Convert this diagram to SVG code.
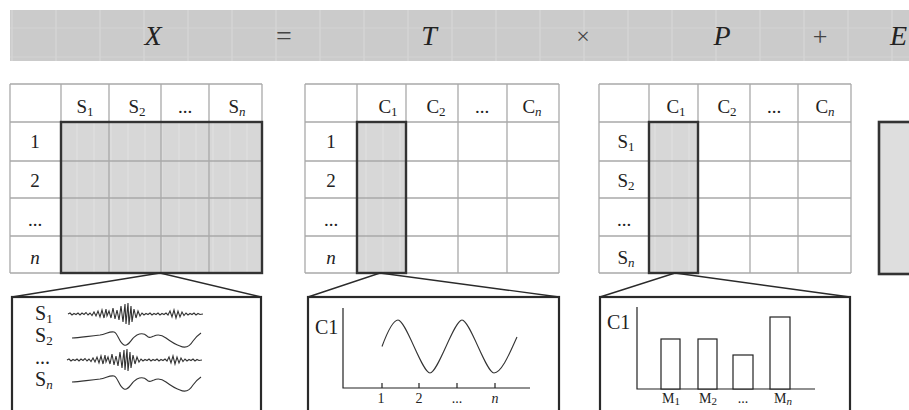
<svg xmlns="http://www.w3.org/2000/svg" width="909" height="410" viewBox="0 0 909 410">
<defs>
<pattern id="tex" x="0" y="0" width="44" height="29" patternUnits="userSpaceOnUse">
<rect width="44" height="29" fill="#cbcbcb"/>
<line x1="12" y1="0" x2="12" y2="29" stroke="#dadada" stroke-width="1"/>
<line x1="0" y1="28" x2="44" y2="28" stroke="#d4d4d4" stroke-width="1"/>
</pattern>
<pattern id="cell" x="0" y="0" width="17" height="13" patternUnits="userSpaceOnUse">
<rect width="17" height="13" fill="#d7d7d7"/>
<line x1="9" y1="0" x2="9" y2="13" stroke="#e3e3e3" stroke-width="0.8"/>
</pattern>
<path id="noisy" d="M68,314 L70,313 72,315 74,313.5 76,314.5 78,313 80,315 82,313 84,314.5 86,312.5 88,315 90,313 92,315.5 94,312 96,316 98,311 100,317 102,310 104,318 106,309 107,316 109,311 111,318 113,308 115,319 117,310 119,320 121,306 123,322 125,304 126,324 128,303 129,325 131,306 132,322 134,309 136,318 138,311 140,316 142,313 144,315 146,313.5 148,314.5 150,313 152,315 154,313.5 156,314.5 158,313 160,315 162,313.5 164,314.5 166,313 168,315 170,311 172,317 174,310 176,318 178,311 180,317 182,312 184,315.5 186,313 188,315 190,313.5 192,314.5 194,313 196,315 198,313.5 200,314.5 203,314"/>
<path id="smooth" d="M72,338 C80,338 88,336 100,335 C106,334 110,331 114,332 C118,333 119,343 124,345 C129,347 131,338 137,335 C141,333 144,333 147,336 C149,339 151,337 154,336 C158,334 162,335 166,338 C170,341 174,344 180,346 C186,349 190,346 193,341 C196,337 198,335 201,333"/>
</defs>
<style>
text{font-family:"Liberation Serif","Times New Roman",serif;fill:#222}
.big{font-size:28px;font-style:italic}
.op{fill:#444}
.hd{font-size:19px;text-anchor:middle}
.sb{font-size:13px}
.it{font-style:italic}
.lb{font-size:20px}
.sm{font-size:14px;text-anchor:middle}
.grid{stroke:#a9a9a9;stroke-width:1.3;fill:none}
.thick{stroke:#333;stroke-width:2.4;fill:none}
.box{stroke:#2a2a2a;stroke-width:2.2;fill:#fff}
.conn{stroke:#2a2a2a;stroke-width:1.4;fill:none}
.wave{stroke:#333;stroke-width:1.1;fill:none}
.ax{stroke:#222;stroke-width:1.2;fill:none}
</style>

<g id="banner">
<rect x="10" y="10" width="910" height="51" fill="url(#tex)"/>
<text class="big" x="153" y="45" text-anchor="middle">X</text>
<text class="op" x="284" y="45" text-anchor="middle" style="font-size:28px">=</text>
<text class="big" x="429" y="45" text-anchor="middle">T</text>
<text class="op" x="583" y="44" text-anchor="middle" style="font-size:24px">×</text>
<text class="big" x="722" y="45" text-anchor="middle">P</text>
<text class="op" x="820" y="45" text-anchor="middle" style="font-size:26px">+</text>
<text class="big" x="890" y="45">E</text>
</g>

<g id="matrix-X">
<rect x="61" y="122" width="201" height="151" fill="url(#cell)"/>
<path class="grid" d="M10,84H262M10,122H262M10,161H262M10,198H262M10,236H262M10,273H262M10,84V273M61,84V273M109,84V273M161,84V273M209,84V273M262,84V273"/>
<rect class="thick" x="61" y="122" width="201" height="151"/>
<text class="hd" x="85" y="113">S<tspan class="sb" dy="3">1</tspan></text>
<text class="hd" x="137" y="113">S<tspan class="sb" dy="3">2</tspan></text>
<text class="hd" x="185" y="113">...</text>
<text class="hd" x="237" y="113">S<tspan class="sb it" dy="3">n</tspan></text>
<text class="hd" x="35" y="148">1</text>
<text class="hd" x="35" y="187">2</text>
<text class="hd" x="35" y="226">...</text>
<text class="hd it" x="35" y="264">n</text>
</g>

<g id="matrix-T">
<rect x="357" y="122" width="49" height="151" fill="url(#cell)"/>
<path class="grid" d="M305,84H559M305,122H559M305,161H559M305,198H559M305,236H559M305,273H559M305,84V273M357,84V273M406,84V273M458,84V273M507,84V273M559,84V273"/>
<rect class="thick" x="357" y="122" width="49" height="151"/>
<text class="hd" x="388" y="113">C<tspan class="sb" dy="3">1</tspan></text>
<text class="hd" x="436" y="113">C<tspan class="sb" dy="3">2</tspan></text>
<text class="hd" x="482" y="113">...</text>
<text class="hd" x="532" y="113">C<tspan class="sb it" dy="3">n</tspan></text>
<text class="hd" x="331" y="148">1</text>
<text class="hd" x="331" y="187">2</text>
<text class="hd" x="331" y="226">...</text>
<text class="hd it" x="331" y="264">n</text>
</g>

<g id="matrix-P">
<rect x="649" y="122" width="49" height="151" fill="url(#cell)"/>
<path class="grid" d="M599,84H851M599,122H851M599,161H851M599,198H851M599,236H851M599,273H851M599,84V273M649,84V273M698,84V273M750,84V273M798,84V273M851,84V273"/>
<rect class="thick" x="649" y="122" width="49" height="151"/>
<text class="hd" x="676" y="113">C<tspan class="sb" dy="3">1</tspan></text>
<text class="hd" x="727" y="113">C<tspan class="sb" dy="3">2</tspan></text>
<text class="hd" x="774" y="113">...</text>
<text class="hd" x="825" y="113">C<tspan class="sb it" dy="3">n</tspan></text>
<text class="hd" x="626" y="148">S<tspan class="sb" dy="3">1</tspan></text>
<text class="hd" x="626" y="187">S<tspan class="sb" dy="3">2</tspan></text>
<text class="hd" x="624" y="226">...</text>
<text class="hd" x="626" y="264">S<tspan class="sb it" dy="3">n</tspan></text>
</g>

<g id="matrix-E">
<rect x="879" y="122" width="40" height="152" fill="#dedede" stroke="#333" stroke-width="2.6"/>
</g>

<g id="connectors">
<path class="conn" d="M12,297L160,273L261,297"/>
<path class="conn" d="M308,297L380,273L559,297"/>
<path class="conn" d="M600,297L675,273L850,297"/>
</g>

<g id="panel-signals">
<rect class="box" x="12" y="297" width="249" height="130"/>
<text class="lb" x="35" y="320">S<tspan class="sb" dy="3">1</tspan></text>
<text class="lb" x="35" y="342">S<tspan class="sb" dy="3">2</tspan></text>
<text class="lb" x="35" y="364">...</text>
<text class="lb" x="35" y="386">S<tspan class="sb it" dy="3">n</tspan></text>
<use href="#noisy" class="wave"/>
<use href="#smooth" class="wave"/>
<use href="#noisy" class="wave" transform="translate(-1,46)"/>
<use href="#smooth" class="wave" transform="translate(0,44)"/>
</g>

<g id="panel-score">
<rect class="box" x="308" y="297" width="251" height="130"/>
<text class="lb" x="315" y="334">C1</text>
<path class="ax" d="M343,308V388H530M382,383V388M419,383V388M457,383V388M495,383V388"/>
<path class="wave" d="M382,346.5 C387,333 393,320 398,320 C406,320 422,373 430,373 C438,373 454,320 462,320 C470,320 486,373 494,373 C502,373 511,350 517,337"/>
<text class="sm" x="381" y="403">1</text>
<text class="sm" x="419" y="403">2</text>
<text class="sm" x="457" y="403">...</text>
<text class="sm it" x="495" y="403">n</text>
</g>

<g id="panel-loading">
<rect class="box" x="600" y="297" width="250" height="130"/>
<text class="lb" x="607" y="329">C1</text>
<path class="ax" d="M637,307V389H815"/>
<rect x="661" y="339" width="19" height="50" fill="#fff" stroke="#222" stroke-width="1.2"/>
<rect x="698" y="339" width="19" height="50" fill="#fff" stroke="#222" stroke-width="1.2"/>
<rect x="733" y="355" width="20" height="34" fill="#fff" stroke="#222" stroke-width="1.2"/>
<rect x="770" y="317" width="20" height="72" fill="#fff" stroke="#222" stroke-width="1.2"/>
<text class="sm" x="671" y="403">M<tspan style="font-size:11px" dy="2">1</tspan></text>
<text class="sm" x="708" y="403">M<tspan style="font-size:11px" dy="2">2</tspan></text>
<text class="sm" x="743" y="403">...</text>
<text class="sm" x="783" y="403">M<tspan class="it" style="font-size:11px" dy="2">n</tspan></text>
</g>
</svg>
